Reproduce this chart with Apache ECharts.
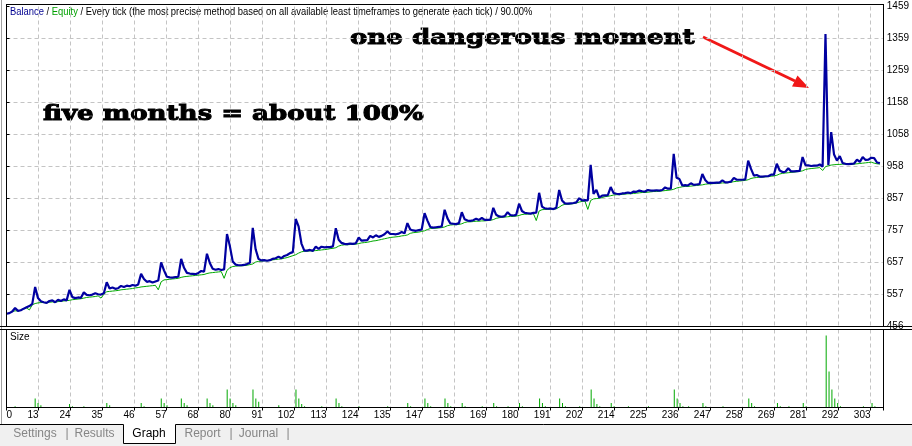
<!DOCTYPE html>
<html>
<head>
<meta charset="utf-8">
<script src="https://cdn.jsdelivr.net/npm/echarts@6/dist/echarts.min.js"></script>
<style>
html,body{margin:0;padding:0;background:#fff;}
#chart{width:912px;height:446px;}
</style>
</head>
<body>
<div id="chart"></div>
<script>
// ---- tick labels ----
const xTickLabels = ['0','13','24','35','46','57','68','80','91','102','113','124','135','147','158','169','180','191','202','214','225','236','247','258','269','281','292','303'];
const yTickLabels = ['456','557','657','757','857','958','1058','1158','1259','1359','1459'];

// ---- balance (blue) per trade 0..305 ----
const balance = [
496,498,503,514,505,507,512,516,520,527,
580,545,535,532,530,536,538,532,540,536,
541,538,571,548,545,547,546,563,555,554,
556,560,557,556,560,595,575,578,574,576,
583,580,584,582,586,584,588,621,605,596,
598,594,597,600,657,632,612,610,609,611,
612,668,640,624,622,621,620,624,630,628,
684,655,637,634,636,633,635,746,708,660,
650,648,648,649,652,656,765,698,668,663,
664,662,664,668,670,675,670,677,680,686,
689,793,770,716,694,694,696,693,706,699,
706,704,705,705,707,764,728,718,715,714,
716,715,717,735,725,726,727,740,735,742,
737,740,745,754,746,746,745,747,752,748,
780,760,757,756,758,760,811,788,768,766,
767,768,770,822,795,779,778,777,780,814,
792,788,787,789,794,790,796,790,790,791,
828,806,801,800,802,814,805,804,806,841,
818,812,811,810,812,813,875,832,826,825,
826,824,828,884,851,842,841,842,843,845,
858,851,852,851,963,872,884,860,866,867,
868,893,874,872,871,873,874,876,874,879,
878,882,880,879,884,882,882,883,882,884,
892,888,888,997,922,918,898,899,898,905,
900,901,902,934,915,906,906,906,907,907,
914,908,908,910,922,916,916,916,917,976,
950,929,931,926,926,927,927,932,932,966,
945,940,941,952,942,942,943,944,987,962,
961,959,960,960,964,957,1373,962,1065,995,
976,990,968,966,965,966,967,979,972,987,
978,979,985,984,970,968
];

// ---- equity (green) per trade 0..305 ----
const equity = [
496,498,503,505,505,507,512,514,508,524,
528,530,531,531,530,532,533,532,534,535,
536,537,538,540,541,542,543,545,547,548,
549,550,552,545,557,565,566,567,568,569,
571,572,573,574,575,577,578,580,581,582,
583,584,585,571,596,602,603,604,605,606,
607,610,612,613,614,615,616,617,618,619,
622,624,625,626,627,628,607,632,640,644,
645,646,646,647,648,650,652,658,660,661,
662,662,663,665,666,667,668,670,672,675,
678,681,686,690,692,692,693,693,694,695,
696,697,698,700,701,703,708,711,712,712,
713,713,714,716,718,719,720,722,724,725,
727,729,731,733,735,736,737,738,740,741,
743,748,750,751,752,754,756,760,763,764,
764,765,766,768,772,774,775,775,776,778,
782,784,784,785,786,786,787,787,788,789,
791,795,797,798,799,800,801,801,802,804,
807,808,808,809,810,788,818,822,823,823,
824,823,825,830,836,839,839,840,841,843,
846,848,849,823,851,856,857,858,860,863,
864,866,868,869,869,870,871,872,872,873,
874,875,876,876,877,878,879,879,880,881,
882,883,884,886,890,892,894,895,895,896,
897,898,899,900,902,903,903,904,904,905,
906,906,907,908,910,911,912,913,914,916,
920,922,923,924,924,925,926,927,928,930,
934,936,937,938,939,940,941,942,944,948,
950,951,952,953,954,945,957,960,962,963,
964,964,965,965,964,964,965,966,967,968,
969,970,971,968,966,965
];

// ---- lot size histogram (trade number, lots) ----
const sizeTrade = [3,10,11,12,22,23,27,35,36,47,48,54,55,56,61,62,63,70,71,72,77,78,79,80,86,87,88,95,101,102,103,104,110,115,116,117,123,133,140,141,146,147,148,153,154,155,159,160,166,170,171,175,179,180,186,187,188,193,194,195,200,204,205,206,207,211,212,217,224,233,234,235,236,238,243,244,250,259,260,261,269,270,273,278,279,286,287,288,289,290,291,299,302,303];
const sizeLots  = [0.01,0.08,0.04,0.02,0.03,0.01,0.01,0.04,0.02,0.04,0.01,0.08,0.04,0.02,0.08,0.04,0.02,0.08,0.04,0.02,0.16,0.08,0.04,0.02,0.16,0.08,0.05,0.02,0.16,0.08,0.03,0.01,0.01,0.08,0.04,0.01,0.01,0.01,0.04,0.01,0.08,0.04,0.01,0.08,0.04,0.01,0.04,0.01,0.01,0.04,0.01,0.01,0.04,0.01,0.08,0.04,0.01,0.08,0.04,0.01,0.01,0.16,0.08,0.03,0.01,0.04,0.01,0.01,0.01,0.16,0.08,0.04,0.01,0.01,0.04,0.01,0.01,0.08,0.04,0.01,0.04,0.01,0.01,0.04,0.01,0.64,0.32,0.16,0.08,0.04,0.01,0.01,0.04,0.01];

const titleParts = ['Balance', 'Equity', 'Every tick (the most precise method based on all available least timeframes to generate each tick)', '90.00%'];
const tabNames = ['Settings', 'Results', 'Graph', 'Report', 'Journal'];
const notes = ['one dangerous moment', 'five months = about 100%'];

// ---- build ----
const balanceData = balance.map((v, i) => [i, v]);
const equityData = equity.map((v, i) => [i, v]);
const sizeData = sizeTrade.map((t, k) => [t, sizeLots[k]]);

const chart = echarts.init(document.getElementById('chart'), null, {renderer: 'canvas'});
const GRID_W = 877;
const dashed = {show: true, showMinLine: false, showMaxLine: false, lineStyle: {color: '#c4c4c4', type: [4, 3], width: 1}};
const tickFont = {fontFamily: 'Liberation Sans', fontSize: 10, color: '#000'};

const tabX = [35, 94.5, 149, 202.5, 258.5];
const sepX = [67, 231, 288];

const L = (x1, y1, x2, y2, c) => ({type: 'line', z: 100, shape: {x1, y1, x2, y2}, style: {stroke: c || '#000', lineWidth: 1}, silent: true});

const graphics = [
  // window left edge
  L(1.5, 0, 1.5, 424, '#a0a0a0'),
  // top panel frame
  L(6, 4.5, 884, 4.5), L(6.5, 4.5, 6.5, 326.5), L(883.5, 4.5, 883.5, 326.5),
  // panel separator double line
  L(0, 326.5, 912, 326.5), L(0, 329.5, 912, 329.5),
  // bottom panel frame
  L(6.5, 329.5, 6.5, 407.5), L(883.5, 329.5, 883.5, 407.5), L(6, 407.5, 884, 407.5),
  // tab strip
  {type: 'rect', shape: {x: 0, y: 425, width: 912, height: 21}, style: {fill: '#f0f0f0'}, silent: true},
  L(0, 424.5, 123.5, 424.5), L(175.5, 424.5, 912, 424.5),
  {type: 'rect', shape: {x: 123.5, y: 424, width: 52, height: 19.5}, style: {fill: '#ffffff'}, silent: true},
  {type: 'polyline', z: 100, shape: {points: [[123.5, 424.5], [123.5, 443.5], [175.5, 443.5], [175.5, 424.5]]}, style: {stroke: '#000', lineWidth: 1, fill: null}, silent: true},
  // title
  {type: 'text', x: 10, y: 7, scaleX: 0.895, style: {
    text: '{b|' + titleParts[0] + '}{k| / }{g|' + titleParts[1] + '}{k| / ' + titleParts[2] + ' / ' + titleParts[3] + '}',
    rich: {
      b: {fill: '#000090', fontFamily: 'Liberation Sans', fontSize: 10.5},
      g: {fill: '#00a000', fontFamily: 'Liberation Sans', fontSize: 10.5},
      k: {fill: '#000', fontFamily: 'Liberation Sans', fontSize: 10.5}
    }
  }, silent: true},
  // Size label
  {type: 'text', x: 10, y: 332, style: {text: 'Size', fill: '#000', fontFamily: 'Liberation Sans', fontSize: 10}, silent: true},
  // annotations
  {type: 'text', x: 350, y: 39, scaleX: 1.24, style: {text: notes[0], fill: '#000', stroke: '#000', lineWidth: 1, fontFamily: 'DejaVu Serif', fontWeight: 'bold', fontSize: 21, verticalAlign: 'middle'}, silent: true},
  {type: 'text', x: 43, y: 115, scaleX: 1.24, style: {text: notes[1], fill: '#000', stroke: '#000', lineWidth: 1, fontFamily: 'DejaVu Serif', fontWeight: 'bold', fontSize: 21, verticalAlign: 'middle'}, silent: true},
  // arrow
  {type: 'line', shape: {x1: 703, y1: 37, x2: 795, y2: 81}, style: {stroke: '#f01818', lineWidth: 3}, silent: true},
  {type: 'polygon', shape: {points: [[809, 88], [792, 86.5], [797.5, 75.5]]}, style: {fill: '#f01818'}, silent: true}
];
tabNames.forEach((t, k) => {
  graphics.push({type: 'text', x: tabX[k], y: 433.5, style: {text: t, fill: t === 'Graph' ? '#000' : '#858585', fontFamily: 'Liberation Sans', fontSize: 12, align: 'center', verticalAlign: 'middle'}, silent: true});
});
sepX.forEach(x => {
  graphics.push({type: 'text', x: x, y: 433.5, style: {text: '|', fill: '#858585', fontFamily: 'Liberation Sans', fontSize: 12, align: 'center', verticalAlign: 'middle'}, silent: true});
});

const option = {
  animation: false,
  backgroundColor: '#fff',
  grid: [
    {left: 6.5, top: 6.5, width: GRID_W, height: 320, show: false},
    {left: 6.5, top: 329.5, width: GRID_W, height: 78, show: false}
  ],
  xAxis: [
    {type: 'value', gridIndex: 0, min: 0, max: 306, show: false},
    {type: 'value', gridIndex: 0, min: 0, max: GRID_W / 32, interval: 1, axisLine: {show: false}, axisTick: {show: false}, axisLabel: {show: false}, splitLine: dashed},
    {type: 'value', gridIndex: 1, min: 0, max: 306, show: false},
    {type: 'value', gridIndex: 1, min: 0, max: GRID_W / 32, interval: 1, position: 'bottom',
      axisLine: {show: false},
      axisTick: {show: true, length: 3, lineStyle: {color: '#000'}},
      axisLabel: Object.assign({show: true, margin: 3, align: 'right', alignMinLabel: 'left',
        formatter: v => (Math.abs(v - Math.round(v)) < 1e-6 && xTickLabels[Math.round(v)] !== undefined) ? xTickLabels[Math.round(v)] : ''}, tickFont),
      splitLine: dashed}
  ],
  yAxis: [
    {type: 'value', gridIndex: 0, min: 456, max: 1459, show: false},
    {type: 'value', gridIndex: 0, min: 0, max: 10, interval: 1, position: 'right',
      axisLine: {show: false},
      axisTick: {show: true, length: 3, lineStyle: {color: '#000'}},
      axisLabel: Object.assign({show: true, margin: 4, formatter: v => yTickLabels[Math.round(v)]}, tickFont),
      splitLine: dashed},
    {type: 'value', gridIndex: 1, min: 0, max: 0.693, show: false}
  ],
  series: [
    {name: 'Equity', type: 'line', xAxisIndex: 0, yAxisIndex: 0, data: equityData, showSymbol: false, symbol: 'none',
      lineStyle: {color: '#00a800', width: 1}, z: 3},
    {name: 'Balance', type: 'line', xAxisIndex: 0, yAxisIndex: 0, data: balanceData, showSymbol: false, symbol: 'none',
      lineStyle: {color: '#0000a0', width: 2.2}, z: 4},
    {name: 'Size', type: 'bar', xAxisIndex: 2, yAxisIndex: 2, data: sizeData, barWidth: 1,
      itemStyle: {color: '#00a800'}, z: 3}
  ],
  graphic: graphics
};
chart.setOption(option);
</script>
</body>
</html>
